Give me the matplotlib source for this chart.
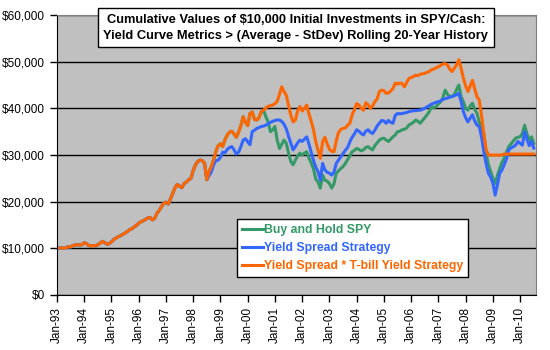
import matplotlib
matplotlib.use("Agg")
import matplotlib.pyplot as plt
from matplotlib.ticker import FuncFormatter

plt.rcParams['font.family'] = ['Liberation Sans', 'DejaVu Sans']

# monthly values, Jan-93 .. Jul-10
# all three strategies share the same path until late 1998
common = [10000, 10050, 10100, 10000, 10150, 10350, 10300, 10600, 10700, 10800,
          10700, 10800, 11200, 11000, 10600, 10500, 10600, 10500, 10800, 11100,
          11500, 11200, 10900, 11000, 11400, 11900, 12200, 12500, 12700, 13000,
          13300, 13600, 14000, 14200, 14600, 14900, 15400, 15700, 15900, 16200,
          16500, 16600, 16100, 16400, 17500, 18100, 18900, 19600, 19900, 19500,
          20600, 21800, 23000, 23700, 23300, 23000, 23900, 24200, 24700, 25000,
          26700, 27900, 28600, 28900, 28800, 28200, 24700]

orange_tail = [26500, 27500, 29000, 30800, 32000, 32400, 31800, 33300, 34300, 34900,
               35100, 34500, 33800, 34900, 36300, 38200, 37000, 36300, 38900, 39200,
               37600, 37500, 38000, 39300, 39600, 40100, 40400, 40600, 40700, 41000,
               41500, 43000, 44600, 43600, 42800, 40600, 38500, 37100, 37500, 39500,
               40400, 39400, 40000, 40700, 38800, 37200, 35400, 32800, 31000, 29300,
               32800, 33800, 32400, 31200, 30800, 30700, 33000, 34800, 35500, 35700,
               35800, 36400, 36800, 38600, 39700, 41000, 40700, 40000, 39600, 41200,
               40800, 40000, 40500, 41400, 42000, 43600, 43900, 43800, 43200, 43300,
               43700, 44300, 45400, 45200, 45400, 45300, 44600, 45500, 46400, 46600,
               46800, 47100, 47000, 47300, 47400, 47500, 47700, 47900, 48300, 48400,
               48700, 48900, 49200, 49500, 49600, 49300, 48400, 47900, 48600, 49300,
               50400, 48600, 46500, 44800, 43600, 44800, 46000, 44200, 42500, 41800,
               38500, 34600, 31200, 30000, 30000, 30000, 30000, 30000, 30000, 30000,
               30200, 30200, 30200, 30200, 30200, 30200, 30200, 30200, 30200, 30200,
               30200, 30200, 30200, 30200]

blue_tail = [25600, 26400, 27900, 28800, 28900, 29500, 30600, 30500, 31200, 31600,
             31800, 31100, 30200, 30600, 31800, 33200, 33500, 32800, 32200, 35000,
             35300, 35700, 35900, 36100, 36200, 36400, 36700, 37000, 37200, 37400,
             37500, 37500, 37200, 36600, 35600, 34000, 32500, 31100, 31800, 32600,
             33200, 32900, 33400, 33900, 32300, 30500, 28800, 27400, 26400, 24600,
             28200, 26800, 26300, 26100, 25700, 26300, 28200, 28900, 29600, 30300,
             31000, 31600, 32800, 33800, 34500, 35400, 35100, 34600, 34300, 35100,
             35400, 34900, 34600, 35300, 36200, 36800, 37400, 37300, 36800, 37400,
             37000, 36800, 38500, 38900, 38800, 38900, 39000, 39100, 39300, 39400,
             39500, 39500, 39600, 39600, 39800, 40000, 40300, 40600, 40900, 41100,
             41300, 41400, 41600, 41900, 42100, 42200, 42400, 42500, 42700, 42900,
             43200, 41500, 39300, 38000, 37100, 37900, 38600, 37300, 36400, 36100,
             33900, 30800, 28200, 26100, 25300, 24000, 21400, 23600, 26100, 26800,
             27900, 29200, 31100, 31500, 31800, 32100, 32900, 32500, 32100, 35000,
             33400, 32000, 32900, 31500]

# buy and hold follows the orange line until Sep-00
green_split = 92
green_tail = [38200, 37100, 35000, 35400, 36100, 33200, 31400, 32300, 33200, 32500,
              30400, 28600, 27900, 28900, 29800, 30400, 30000, 30400, 30700, 29300,
              28300, 27000, 24800, 24200, 22900, 25700, 24600, 24400, 23900, 22900,
              23800, 26100, 26600, 27100, 27500, 28200, 29000, 29800, 30700, 31000,
              31400, 31200, 30900, 31100, 31600, 31800, 31400, 31100, 32000, 32600,
              33200, 33500, 33600, 33200, 32900, 33400, 33900, 34300, 35000, 35100,
              35400, 35500, 35800, 36400, 36700, 37000, 37500, 37200, 36800, 37400,
              38000, 38600, 39300, 40400, 40100, 40400, 41000, 41400, 42300, 43900,
              43000, 42500, 42600, 42900, 44000, 45000, 42500, 41400, 40000, 39600,
              40500, 41100, 39800, 38900, 37100, 35500, 34600, 30400, 28000, 26500,
              25000, 23900, 25600, 27100, 28400, 29300, 30600, 31800, 32400, 33000,
              33600, 33800, 33900, 34600, 36400, 34500, 33200, 33900, 32500]

orange = common + orange_tail
blue = common + blue_tail
green = orange[:green_split] + green_tail

years = ['93', '94', '95', '96', '97', '98', '99', '00', '01', '02',
         '03', '04', '05', '06', '07', '08', '09', '10']
tick_labels = ['Jan-' + y for y in years]

names = ['Buy and Hold SPY', 'Yield Spread Strategy',
         'Yield Spread * T-bill Yield Strategy']
colors = ['#339966', '#3366ff', '#ff6600']

fig = plt.figure(figsize=(5.5, 3.5), dpi=100)
ax = fig.add_axes([57/550, 55/350, 479/550, 280/350])
ax.set_facecolor('#c0c0c0')

for s, name, c in zip([green, blue, orange], names, colors):
    ax.plot(range(len(s)), s, color=c, lw=2.2, label=name)

ax.set_xlim(0, 211)
ax.set_ylim(0, 60000)
ax.set_yticks(range(0, 60001, 10000))
ax.yaxis.set_major_formatter(FuncFormatter(lambda v, p: '\\${:,.0f}'.format(v)))
ax.grid(axis='y', color='black', lw=1)
ax.set_axisbelow(True)
ax.set_xticks(range(0, 12 * len(years), 12))
ax.set_xticklabels(tick_labels, rotation=90)
ax.tick_params(direction='out', length=5, width=1, labelsize=8.5, colors='black')
for side in ['top', 'right']:
    ax.spines[side].set_color('#808080')

fig.text(0.538, 0.921,
         'Cumulative Values of \\$10,000 Initial Investments in SPY/Cash:\n'
         'Yield Curve Metrics > (Average - StDev) Rolling 20-Year History',
         ha='center', va='center', fontsize=9.3, fontweight='bold', linespacing=1.45,
         bbox=dict(boxstyle='square,pad=0.4', fc='white', ec='black', lw=1))

leg = ax.legend(loc='lower left', bbox_to_anchor=(237/550, 73/350),
                bbox_transform=fig.transFigure, fancybox=False, edgecolor='black',
                framealpha=1, prop={'weight': 'bold', 'size': 8.8},
                handlelength=1.7, handletextpad=0.1, borderaxespad=0,
                labelspacing=0.5, borderpad=0.4)
leg.get_frame().set_linewidth(1)
for t, c in zip(leg.get_texts(), colors):
    t.set_color(c)

fig.savefig('out.png', dpi=100)
